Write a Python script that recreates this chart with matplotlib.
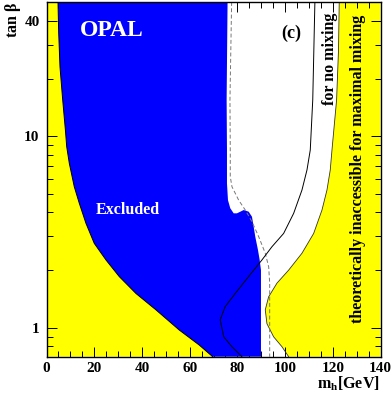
import matplotlib
matplotlib.use("Agg")
import matplotlib.pyplot as plt
from matplotlib.ticker import FixedLocator, LogLocator, NullFormatter, MultipleLocator

plt.rcParams['font.family'] = ['Liberation Serif', 'DejaVu Serif']
plt.rcParams['font.weight'] = 'bold'

# axis range
m_min, m_max = 0, 140
tb_min, tb_max = 0.706, 50.3

# theoretically inaccessible (left), boundary read from top to bottom
left_m = [4.82, 5.11, 5.66, 6.79, 7.96, 8.47, 9.56, 11.65, 13.75, 16.55, 20.03, 24.94,
          30.51, 37.51, 45.89, 55.66, 64.04, 69.66]
left_tb = [50.3, 34.7, 23.0, 15.5, 10.65, 8.83, 7.23, 5.45, 4.47, 3.51, 2.76, 2.26,
           1.85, 1.51, 1.24, 0.973, 0.812, 0.706]

# right edge of the excluded region, top to bottom
excl_m = [75.9, 75.5, 75.65, 75.65, 76.07, 77.03, 78.46, 79.84, 82.65, 84.74, 86.13,
          86.84, 87.51, 88.64, 89.35, 89.9, 89.9]
excl_tb = [50.3, 15.5, 8.48, 5.68, 4.64, 4.21, 3.96, 3.96, 4.12, 4.04, 3.80,
           3.37, 2.99, 2.55, 2.26, 2.00, 0.706]

# dashed (expected) limit
dash_m = [77.6, 76.9, 77.03, 77.03, 77.75, 80.55, 83.32, 86.13, 88.94, 91.7, 93.13, 93.55, 93.55]
dash_tb = [50.3, 15.5, 8.48, 6.15, 5.45, 4.64, 4.12, 3.58, 2.99, 2.45, 2.08, 1.71, 0.706]

# theoretical limit for no mixing
nomix_m = [112.5, 111.6, 110.56, 109.18, 107.08, 103.6, 99.4, 94.5, 90.3, 84.7, 79.1,
           74.9, 72.8, 74.3, 77.7, 81.9]
nomix_tb = [50.3, 15.5, 8.48, 6.67, 5.24, 3.96, 3.11, 2.65, 2.26, 1.85, 1.51,
            1.29, 1.10, 0.897, 0.796, 0.706]

# theoretically inaccessible for maximal mixing (right)
right_m = [122.7, 122.4, 121.6, 119.66, 118.94, 117.56, 115.47, 111.99, 107.08, 101.5,
           96.6, 93.1, 91.7, 92.4, 95.2, 98.7, 101.5]
right_tb = [50.3, 28.3, 15.5, 8.48, 6.67, 5.24, 4.12, 3.11, 2.45, 2.00,
            1.71, 1.45, 1.24, 1.05, 0.897, 0.796, 0.706]

x_ticks = [0, 20, 40, 60, 80, 100, 120, 140]
y_ticks = [1, 10, 40]
y_ticklabels = ['1', '10', '40']

yellow = '#ffff00'
blue = '#0000ff'

fig = plt.figure(figsize=(3.92, 3.93), dpi=100)
ax = fig.add_axes([46.5 / 392, 1 - 356.7 / 393, 334 / 392, 354.7 / 393])
ax.set_yscale('log')
ax.set_xlim(m_min, m_max)
ax.set_ylim(tb_min, tb_max)

# left yellow
ax.fill([m_min] + left_m + [m_min], [tb_max] + left_tb + [tb_min],
        color=yellow, lw=0, zorder=1)
# excluded (blue)
ax.fill(left_m + excl_m[::-1], left_tb + excl_tb[::-1], color=blue, lw=0, zorder=2)
ax.plot(left_m, left_tb, color='black', lw=0.7, zorder=3)
# right yellow
ax.fill(right_m + [m_max, m_max], right_tb + [tb_min, tb_max], color=yellow, lw=0, zorder=1)
ax.plot(right_m, right_tb, color='#333333', lw=0.6, zorder=3)

ax.plot(dash_m, dash_tb, color='#777777', lw=0.7, ls=(0, (4, 2.5)), zorder=3)
ax.plot(nomix_m, nomix_tb, color='black', lw=0.7, zorder=3)

# ticks
ax.xaxis.set_major_locator(FixedLocator(x_ticks))
ax.xaxis.set_minor_locator(MultipleLocator(5))
ax.yaxis.set_major_locator(FixedLocator(y_ticks))
ax.set_yticklabels(y_ticklabels)
ax.yaxis.set_minor_locator(LogLocator(base=10, subs=range(1, 10)))
ax.yaxis.set_minor_formatter(NullFormatter())
ax.tick_params(which='both', direction='in', top=True, right=True, labelsize=11, width=0.7)
ax.tick_params(which='major', length=7)
ax.tick_params(axis='x', which='major', pad=3.5)
ax.tick_params(axis='y', which='major', pad=5)
ax.tick_params(which='minor', length=4)
for lab in ax.get_xticklabels() + ax.get_yticklabels():
    lab.set_fontweight('bold')
for sp in ax.spines.values():
    sp.set_linewidth(1.0)
    sp.set_zorder(5)

# texts
ax.text(0.195, 0.921, 'OPAL', transform=ax.transAxes, color='white', fontsize=17,
        fontweight='bold', ha='center', va='center', zorder=6)
ax.text(0.732, 0.912, '(c)', transform=ax.transAxes, color='black', fontsize=13,
        fontweight='bold', ha='center', va='center', zorder=6)
ax.text(0.244, 0.414, 'Excluded', transform=ax.transAxes, color='white', fontsize=11.5,
        fontweight='bold', ha='center', va='center', zorder=6)
ax.text(0.849, 0.969, 'for no mixing', transform=ax.transAxes, color='black', fontsize=11.5,
        fontweight='bold', ha='center', va='top', rotation=90, zorder=6)
ax.text(0.933, 0.963, 'theoretically inaccessible for maximal mixing', transform=ax.transAxes,
        color='black', fontsize=11.5, fontweight='bold', ha='center', va='top', rotation=90, zorder=6)

fig.text(13 / 392, 1 - 2 / 393, r'tan $\mathregular{\beta}$', fontsize=11.5, fontweight='bold',
         rotation=90, ha='center', va='top')
fig.text(380 / 392, 1 - 388 / 393, r'm$_\mathregular{h}$[GeV]', fontsize=11.5, fontweight='bold',
         ha='right', va='baseline')

fig.savefig('out.png', dpi=100)
